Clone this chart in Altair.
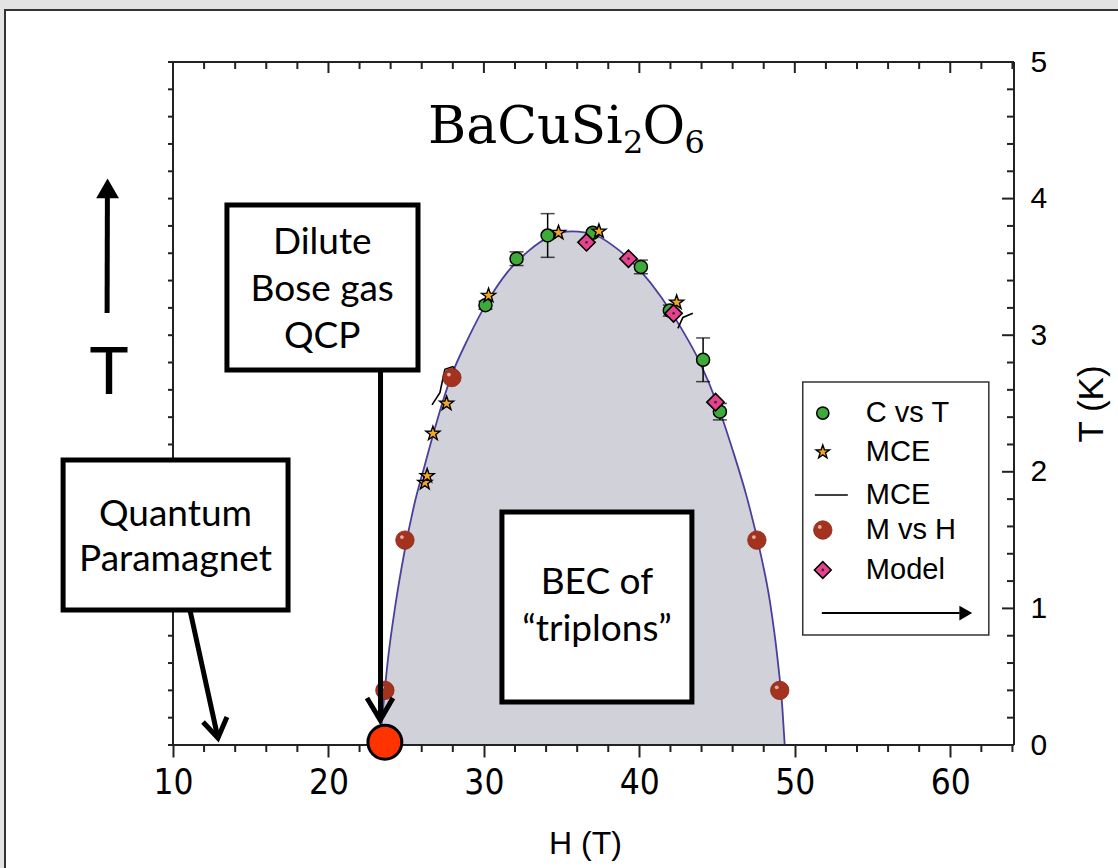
import altair as alt
import pandas as pd

# ---------------- data ----------------
curve_H = [23.3, 23.5, 23.8, 24.3, 24.9, 25.5, 26.2, 27.0, 27.9, 29.0, 30.2, 31.5, 32.8,
           34.2, 35.7, 37.2, 38.6, 40.0, 41.4, 42.7, 43.9, 45.0, 46.0, 46.9, 47.7, 48.4,
           48.9, 49.2, 49.35]
curve_T = [0.0, 0.25, 0.60, 1.02, 1.42, 1.75, 2.05, 2.38, 2.70, 2.98, 3.24, 3.46, 3.61,
           3.72, 3.76, 3.73, 3.63, 3.48, 3.28, 3.05, 2.80, 2.50, 2.16, 1.82, 1.45, 1.05,
           0.62, 0.27, 0.0]

cvt_H = [30.1, 32.1, 34.1, 37.0, 40.1, 41.96, 44.1, 45.18]
cvt_T = [3.22, 3.56, 3.73, 3.75, 3.50, 3.18, 2.82, 2.44]
cvt_err = [0.03, 0.05, 0.16, 0.0, 0.05, 0.04, 0.16, 0.06]

mce_H = [26.2, 26.35, 26.72, 27.6, 30.3, 34.8, 37.4, 42.4]
mce_T = [1.92, 1.97, 2.28, 2.50, 3.29, 3.75, 3.76, 3.24]

mce_line_seg = [1, 1, 1, 1, 1, 2, 2, 2]
mce_line_H = [26.66, 27.17, 27.49, 28.0, 28.33, 42.48, 42.8, 43.44]
mce_line_T = [2.49, 2.58, 2.75, 2.77, 2.72, 3.05, 3.13, 3.16]

mvh_H = [23.63, 24.92, 27.94, 47.56, 49.03]
mvh_T = [0.40, 1.50, 2.69, 1.50, 0.40]

model_H = [36.6, 39.3, 42.2, 44.9]
model_T = [3.68, 3.56, 3.16, 2.51]

qcp_H = [23.63]
qcp_T = [0.02]

xtick_major = [10, 20, 30, 40, 50, 60]
xtick_minor = [12, 14, 16, 18, 22, 24, 26, 28, 32, 34, 36, 38, 42, 44, 46, 48,
               52, 54, 56, 58, 62, 64]
ytick_major = [0, 1, 2, 3, 4, 5]
ytick_minor = [0.2, 0.4, 0.6, 0.8, 1.2, 1.4, 1.6, 1.8, 2.2, 2.4, 2.6, 2.8,
               3.2, 3.4, 3.6, 3.8, 4.2, 4.4, 4.6, 4.8]

# title pieces: BaCuSi_2 O_6
title_parts = ["BaCuSi", "2", "O", "6"]
title_H = [26.40, 38.95, 40.20, 42.90]
title_T = [4.407, 4.334, 4.407, 4.334]
title_fs = [52, 32, 52, 32]

legend_labels = ["C vs T", "MCE", "MCE", "M vs H", "Model"]

# annotation boxes (data coordinates)
box_H1 = [13.47, 2.93, 31.16]
box_H2 = [25.76, 17.40, 43.38]
box_T1 = [3.953, 2.086, 1.706]
box_T2 = [2.745, 0.988, 0.315]

ann_text = ["Dilute", "Bose gas", "QCP", "Quantum", "Paramagnet", "BEC of",
            "\u201ctriplons\u201d"]
ann_H = [19.60, 19.60, 19.60, 10.16, 10.16, 37.27, 37.27]
ann_T = [3.675, 3.331, 2.987, 1.684, 1.354, 1.186, 0.842]

# arrows (polylines, data coordinates)
arrow_id = [1, 1, 2, 2, 2, 3, 3, 4, 4, 4, 5, 5]
arrow_H = [23.35, 23.35, 22.48, 23.33, 24.15, 11.09, 12.89, 11.93, 12.89, 13.47, 5.76, 5.78]
arrow_T = [2.745, 0.20, 0.344, 0.183, 0.344, 0.988, 0.051, 0.168, 0.051, 0.205, 3.163, 4.02]

STAR = ("M0,-1L0.235,-0.324L0.951,-0.309L0.380,0.124L0.588,0.809L0,0.4"
        "L-0.588,0.809L-0.380,0.124L-0.951,-0.309L-0.235,-0.324Z")

# ---------------- encodings ----------------
X = alt.X("H:Q", scale=alt.Scale(domain=[10, 64.1], nice=False, zero=False),
          axis=alt.Axis(values=xtick_major, title="H (T)", orient="bottom", grid=False,
                        zindex=1, domain=False,
                        tickSize=12, tickWidth=2, tickColor="#222", labelFontSize=35,
                        labelFont="Liberation Sans Narrow, DejaVu Sans Condensed, Liberation Sans",
                        labelColor="black", labelPadding=8, labelFlush=False,
                        titleFontSize=32, titleFont="Liberation Sans", titleFontWeight="normal",
                        titleColor="black", titlePadding=28, titleX=412))
Y = alt.Y("T:Q", scale=alt.Scale(domain=[0, 5], nice=False, zero=True),
          axis=alt.Axis(values=ytick_major, orient="right", grid=False, ticks=False,
                        zindex=1, domain=False, labelFontSize=30,
                        labelFont="Liberation Sans", labelColor="black", labelPadding=16,
                        labelFlush=False, title="T (K)", titleAngle=270, titleBaseline="top",
                        titleFontSize=35, titleFont="Liberation Sans",
                        titleFontWeight="normal", titleColor="black", titlePadding=28))

one = pd.DataFrame({"a": [0]})

panel = alt.Chart(one).mark_rect(fill="white", stroke="#333", strokeWidth=2).encode(
    x=alt.value(-168), x2=alt.value(1100), y=alt.value(-52), y2=alt.value(900))

curve = pd.DataFrame({"H": curve_H, "T": curve_T})
area = alt.Chart(curve).mark_area(interpolate="monotone", color="#d1d1d9").encode(x=X, y=Y)
line = alt.Chart(curve).mark_line(interpolate="monotone", color="#4b3f9c",
                                   strokeWidth=1.8).encode(x=X, y=Y)

frame = [
    alt.Chart(one).mark_rule(color="#222", strokeWidth=2).encode(
        x=alt.value(0), x2=alt.value(841), y=alt.value(0)),
    alt.Chart(one).mark_rule(color="#222", strokeWidth=2).encode(
        x=alt.value(0), y=alt.value(0), y2=alt.value(683)),
    alt.Chart(one).mark_rule(color="#222", strokeWidth=2).encode(
        x=alt.value(0), x2=alt.value(841), y=alt.value(683)),
    alt.Chart(one).mark_rule(color="#222", strokeWidth=2).encode(
        x=alt.value(841), y=alt.value(0), y2=alt.value(683)),
]

xmaj = pd.DataFrame({"H": xtick_major})
xmin = pd.DataFrame({"H": xtick_minor})
ymaj = pd.DataFrame({"T": ytick_major})
ymin = pd.DataFrame({"T": ytick_minor})
yall = pd.DataFrame({"T": ytick_major + ytick_minor})

tick_layers = [
    alt.Chart(xmaj).mark_rule(color="#222", strokeWidth=2).encode(
        x=X, y=alt.value(0), y2=alt.value(11)),
    alt.Chart(xmin).mark_rule(color="#222", strokeWidth=2).encode(
        x=X, y=alt.value(0), y2=alt.value(7)),
    alt.Chart(xmin).mark_rule(color="#222", strokeWidth=2).encode(
        x=X, y=alt.value(683), y2=alt.value(690)),
    alt.Chart(ymaj).mark_rule(color="#222", strokeWidth=2).encode(
        y=Y, x=alt.value(829), x2=alt.value(841)),
    alt.Chart(ymin).mark_rule(color="#222", strokeWidth=2).encode(
        y=Y, x=alt.value(834), x2=alt.value(841)),
    alt.Chart(yall).mark_rule(color="#222", strokeWidth=2).encode(
        y=Y, x=alt.value(-5), x2=alt.value(0)),
]

title = alt.Chart(pd.DataFrame({"H": title_H, "T": title_T, "t": title_parts,
                                "fs": title_fs})).mark_text(
    font="DejaVu Serif", align="left", baseline="alphabetic", color="black").encode(
    x=X, y=Y, text="t:N", size=alt.Size("fs:Q", scale=None, legend=None))

mce_lines = alt.Chart(pd.DataFrame({"H": mce_line_H, "T": mce_line_T, "s": mce_line_seg})
                      ).mark_line(color="black", strokeWidth=1.6).encode(x=X, y=Y, detail="s:N")

cvt = pd.DataFrame({"H": cvt_H, "T": cvt_T, "e": cvt_err})
err_df = pd.DataFrame({"H": cvt["H"], "T": cvt["T"] - cvt["e"], "T2": cvt["T"] + cvt["e"]})
caps_df = pd.DataFrame({"H": list(cvt["H"]) * 2,
                        "T": list(cvt["T"] - cvt["e"]) + list(cvt["T"] + cvt["e"])})
err_v = alt.Chart(err_df).mark_rule(color="black", strokeWidth=1.5).encode(x=X, y=Y, y2="T2:Q")
err_caps = alt.Chart(caps_df).mark_tick(orient="horizontal", size=14, thickness=1.5,
                                        color="black").encode(x=X, y=Y)

mvh_df = pd.DataFrame({"H": mvh_H, "T": mvh_T})
mvh = alt.Chart(mvh_df).mark_point(
    shape="circle", filled=True, fill="#a3321f", size=340, opacity=1,
    stroke="#8a2616", strokeWidth=0.8).encode(x=X, y=Y)
mvh_hl = alt.Chart(mvh_df).mark_point(
    shape="circle", filled=True, fill="#f2c8bc", size=14, opacity=0.85,
    xOffset=-3, yOffset=-3).encode(x=X, y=Y)
green = alt.Chart(cvt).mark_point(shape="circle", filled=True, fill="#3daa3a", stroke="black",
                                  strokeWidth=1.5, size=170, opacity=1).encode(x=X, y=Y)
stars = alt.Chart(pd.DataFrame({"H": mce_H, "T": mce_T})).mark_point(
    shape=STAR, filled=True, fill="#f5a623", stroke="black", strokeWidth=1.4,
    size=220, opacity=1).encode(x=X, y=Y)
model = pd.DataFrame({"H": model_H, "T": model_T})
diam = alt.Chart(model).mark_point(shape="diamond", filled=True, fill="#e8428e", stroke="black",
                                   strokeWidth=1.6, size=300, opacity=1).encode(x=X, y=Y)
diam_dot = alt.Chart(model).mark_point(shape="circle", filled=True, fill="#333", size=8,
                                       opacity=1).encode(x=X, y=Y)

boxes = alt.Chart(pd.DataFrame({"H": box_H1, "H2": box_H2, "T": box_T1, "T2": box_T2})
                  ).mark_rect(fill="white", stroke="black", strokeWidth=5).encode(
    x=X, x2="H2:Q", y=Y, y2="T2:Q")
ann = alt.Chart(pd.DataFrame({"H": ann_H, "T": ann_T, "t": ann_text})).mark_text(
    font="Lato", fontSize=37, align="center", baseline="middle", color="black").encode(
    x=X, y=Y, text="t:N")
arrows = alt.Chart(pd.DataFrame({"H": arrow_H, "T": arrow_T, "id": arrow_id,
                                 "k": list(range(len(arrow_H)))})).mark_line(
    color="black", strokeWidth=5, strokeJoin="miter", strokeCap="butt").encode(
    x=X, y=Y, detail="id:N", order="k:Q")
t_head = alt.Chart(pd.DataFrame({"H": [5.79], "T": [4.075]})).mark_point(
    shape="triangle-up", filled=True, fill="black", size=520, opacity=1).encode(x=X, y=Y)
t_letter = alt.Chart(pd.DataFrame({"H": [5.88], "T": [2.716], "t": ["T"]})).mark_text(
    font="Lato", fontSize=66, align="center", baseline="middle",
    color="black").encode(x=X, y=Y, text="t:N")

qcp = alt.Chart(pd.DataFrame({"H": qcp_H, "T": qcp_T})).mark_point(
    shape="circle", filled=True, fill="#ff3300", stroke="black", strokeWidth=3,
    size=1150, opacity=1).encode(x=X, y=Y)

# legend
leg_box = alt.Chart(pd.DataFrame({"H": [50.51], "H2": [62.48], "T": [2.657], "T2": [0.805]})
                    ).mark_rect(fill="white", stroke="#333", strokeWidth=1.5).encode(
    x=X, x2="H2:Q", y=Y, y2="T2:Q")
leg_T = [2.43, 2.145, 1.83, 1.574, 1.281]
leg_text = alt.Chart(pd.DataFrame({"H": [54.57] * 5, "T": leg_T, "t": legend_labels})
                     ).mark_text(font="Liberation Sans", fontSize=29, align="left",
                                 baseline="middle", color="black").encode(x=X, y=Y, text="t:N")
leg_green = alt.Chart(pd.DataFrame({"H": [51.8], "T": [leg_T[0]]})).mark_point(
    shape="circle", filled=True, fill="#3daa3a", stroke="black", strokeWidth=1.5, size=150,
    opacity=1).encode(x=X, y=Y)
leg_star = alt.Chart(pd.DataFrame({"H": [51.8], "T": [leg_T[1]]})).mark_point(
    shape=STAR, filled=True, fill="#f5a623", stroke="black", strokeWidth=1.4, size=200,
    opacity=1).encode(x=X, y=Y)
leg_line = alt.Chart(pd.DataFrame({"H": [51.29, 53.41], "T": [leg_T[2]] * 2})).mark_line(
    color="black", strokeWidth=1.6).encode(x=X, y=Y)
leg_sph_df = pd.DataFrame({"H": [51.8], "T": [leg_T[3]]})
leg_sphere = alt.Chart(leg_sph_df).mark_point(
    shape="circle", filled=True, fill="#a3321f", size=340, opacity=1,
    stroke="#8a2616", strokeWidth=0.8).encode(x=X, y=Y)
leg_sphere_hl = alt.Chart(leg_sph_df).mark_point(
    shape="circle", filled=True, fill="#f2c8bc", size=14, opacity=0.85,
    xOffset=-3, yOffset=-3).encode(x=X, y=Y)
leg_diam = alt.Chart(pd.DataFrame({"H": [51.8], "T": [leg_T[4]]})).mark_point(
    shape="diamond", filled=True, fill="#e8428e", stroke="black", strokeWidth=1.6, size=280,
    opacity=1).encode(x=X, y=Y)
leg_diam_dot = alt.Chart(pd.DataFrame({"H": [51.8], "T": [leg_T[4]]})).mark_point(
    shape="circle", filled=True, fill="#333", size=8, opacity=1).encode(x=X, y=Y)
leg_arrow = alt.Chart(pd.DataFrame({"H": [51.74, 60.6], "T": [0.966] * 2})).mark_line(
    color="black", strokeWidth=2).encode(x=X, y=Y)
leg_head = alt.Chart(pd.DataFrame({"H": [61.0], "T": [0.966]})).mark_point(
    shape="triangle-right", filled=True, fill="black", size=220, opacity=1).encode(x=X, y=Y)

chart = alt.layer(
    panel, area, line, *frame, *tick_layers, title,
    mce_lines, err_v, err_caps, mvh, mvh_hl, green, stars, diam, diam_dot,
    boxes, arrows, ann, t_head, t_letter, qcp,
    leg_box, leg_text, leg_green, leg_star, leg_line, leg_sphere, leg_sphere_hl,
    leg_diam, leg_diam_dot, leg_arrow, leg_head,
).properties(
    width=841, height=683,
    padding={"left": 173, "top": 62, "right": 104, "bottom": 123},
    autosize=alt.AutoSizeParams(type="none"),
).configure(background="#e3e3e3").configure_view(stroke=None)

chart.save("out.html", embed_options={"renderer": "svg", "actions": False})
